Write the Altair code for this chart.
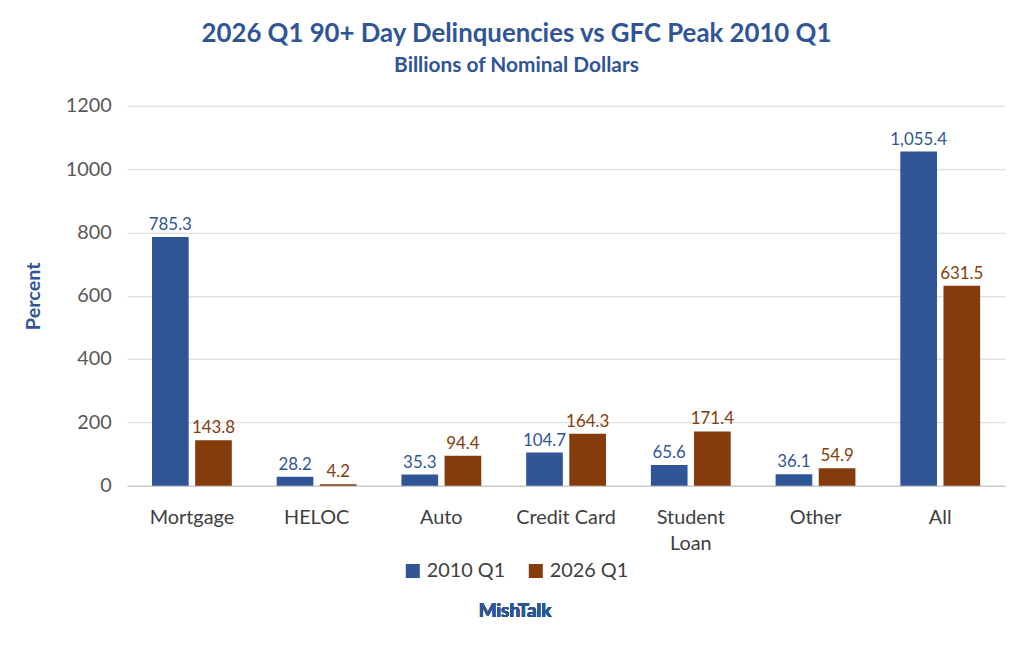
import altair as alt
import pandas as pd

categories = ["Mortgage", "HELOC", "Auto", "Credit Card", "Student Loan", "Other", "All"]
v2010 = [785.3, 28.2, 35.3, 104.7, 65.6, 36.1, 1055.4]
v2026 = [143.8, 4.2, 94.4, 164.3, 171.4, 54.9, 631.5]
series = ["2010 Q1", "2026 Q1"]
colors = ["#2F5597", "#843C0C"]

rows = []
for c, a, b in zip(categories, v2010, v2026):
    rows.append({"cat": c, "series": series[0], "val": a, "lab": f"{a:,.1f}"})
    rows.append({"cat": c, "series": series[1], "val": b, "lab": f"{b:,.1f}"})
df = pd.DataFrame(rows)

F = "Lato"
base = alt.Chart(df).encode(
    x=alt.X("cat:N", sort=categories, title=None,
            scale=alt.Scale(paddingInner=0.36, paddingOuter=0.2),
            axis=alt.Axis(labelAngle=0, labelFontSize=20, labelColor="#404040", labelFont=F,
                          ticks=False, domainColor="#BFBFBF", labelPadding=22, labelLineHeight=26,
                          labelExpr="datum.label == 'Student Loan' ? ['Student','Loan'] : datum.label")),
    xOffset=alt.XOffset("series:N", scale=alt.Scale(paddingInner=0.15)),
)
bars = base.mark_bar().encode(
    y=alt.Y("val:Q", scale=alt.Scale(domain=[0, 1200]),
            axis=alt.Axis(values=list(range(0, 1201, 200)), format="d", labelFontSize=20,
                          labelColor="#595959", labelFont=F, ticks=False, domain=False,
                          gridColor="#D9D9D9", labelPadding=16,
                          title="Percent", titleFontSize=20, titleColor="#2F5597", titleFont=F,
                          titlePadding=22)),
    color=alt.Color("series:N", scale=alt.Scale(domain=series, range=colors),
                    legend=alt.Legend(title=None, orient="none", legendX=278, legendY=459,
                                      direction="horizontal", symbolType="square", symbolSize=200,
                                      labelFontSize=20, labelColor="#404040", labelFont=F,
                                      columnPadding=20, symbolOpacity=1)),
)
texts = base.mark_text(dy=-12, fontSize=17, font=F).encode(
    y="val:Q", text="lab:N",
    color=alt.Color("series:N", scale=alt.Scale(domain=series, range=colors), legend=None),
)
mish = alt.Chart(df).mark_text(fontSize=19, fontWeight="bold", color="#2F5597", font=F).encode(
    x=alt.value(391), y=alt.value(509), text=alt.value("MishTalk"))

chart = alt.layer(bars, texts, mish).properties(
    width=885, height=383,
    autosize=alt.AutoSizeParams(type="none"),
    padding={"left": 120, "top": 96, "right": 11, "bottom": 150},
    title=alt.Title("2026 Q1 90+ Day Delinquencies vs GFC Peak 2010 Q1",
                    subtitle="Billions of Nominal Dollars", fontSize=26, subtitleFontSize=21,
                    color="#2F5597", subtitleColor="#2F5597", font=F, subtitleFont=F,
                    fontWeight="bold", subtitleFontWeight="bold", dx=-50, offset=20,
                    subtitlePadding=8),
).configure_view(stroke=None)

chart.save("out.html", embed_options={"renderer": "svg", "actions": False})
